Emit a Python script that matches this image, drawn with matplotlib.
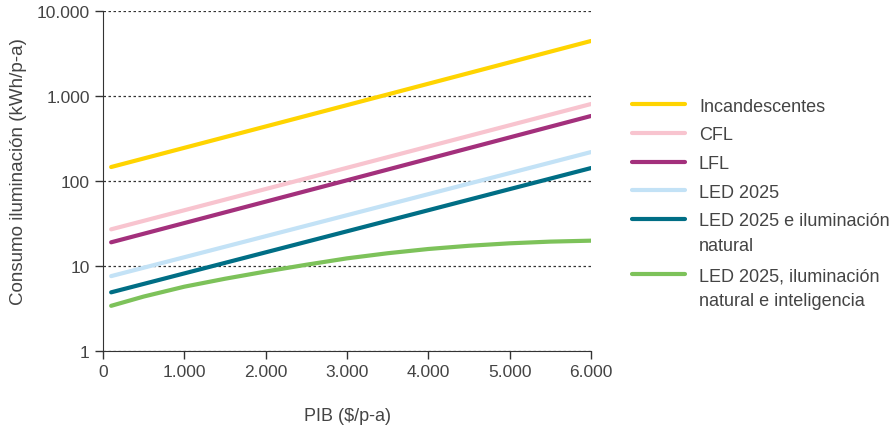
import numpy as np
import matplotlib.pyplot as plt
from matplotlib.lines import Line2D

plt.rcParams['font.family'] = ['Liberation Sans', 'DejaVu Sans']

# valores
pib = [100, 3000, 6000]
incandescentes = [146, 781, 4440]
cfl = [27, 143, 805]
lfl = [19, 102, 582]
led = [7.6, 39.6, 219]
led_nat = [4.9, 25.6, 142]

pib_green = [100, 500, 1000, 1500, 2000, 2500, 3000, 3500, 4000, 4500, 5000, 5500, 6000]
led_nat_int = [3.40, 4.37, 5.71, 7.08, 8.61, 10.35, 12.3, 14.13, 15.85, 17.3, 18.49, 19.36, 19.86]

series = [
    ("Incandescentes", pib, incandescentes, "#FFD400"),
    ("CFL", pib, cfl, "#F8C4CF"),
    ("LFL", pib, lfl, "#A3307C"),
    ("LED 2025", pib, led, "#C3E2F6"),
    ("LED 2025 e iluminación\nnatural", pib, led_nat, "#006E85"),
    ("LED 2025, iluminación\nnatural e inteligencia", pib_green, led_nat_int, "#7DC25A"),
]

xticks = [0, 1000, 2000, 3000, 4000, 5000, 6000]
xticklabels = ["0", "1.000", "2.000", "3.000", "4.000", "5.000", "6.000"]
yticks = [1, 10, 100, 1000, 10000]
yticklabels = ["1", "10", "100", "1.000", "10.000"]

W, H = 892, 431
txt = "#444444"
fig = plt.figure(figsize=(W / 100, H / 100), dpi=100)
ax = fig.add_axes([103 / W, 1 - 352 / H, 488 / W, 340 / H])

for name, xs, vals, col in series:
    ax.plot(xs, vals, color=col, lw=3, label=name, solid_capstyle="round")

ax.set_yscale("log")
ax.set_xlim(0, 6000)
ax.set_ylim(1, 10000)
ax.set_xticks(xticks)
ax.set_xticklabels(xticklabels)
ax.set_yticks(yticks)
ax.set_yticklabels(yticklabels)
ax.minorticks_off()
ax.tick_params(colors="#333333", labelcolor=txt, labelsize=12.5, length=6, width=1)
ax.grid(axis="y", linestyle=(0, (2, 2)), color="#333333", lw=0.9)
ax.set_axisbelow(True)
for s in ["top", "right"]:
    ax.spines[s].set_visible(False)
for s in ["left", "bottom"]:
    ax.spines[s].set_color("#333333")

ax.set_xlabel("PIB ($/p-a)", fontsize=13, color=txt, labelpad=20)
ax.set_ylabel("Consumo iluminación (kWh/p-a)", fontsize=13.5, color=txt)
ax.yaxis.set_label_coords(-0.156, 0.53)

# leyenda a mano: la linea va alineada con la primera linea del texto
y = 105
for name, xs, vals, col in series:
    fig.add_artist(Line2D([632 / W, 685 / W], [1 - y / H] * 2, transform=fig.transFigure,
                          color=col, lw=3, solid_capstyle="round"))
    lines = name.split("\n")
    for i, ln in enumerate(lines):
        fig.text(699 / W, 1 - (y + 25 * i) / H, ln, fontsize=13, color=txt,
                 ha="left", va="center_baseline")
    y += 28.75 + 26 * (len(lines) - 1)

fig.savefig("out.png", dpi=100)
